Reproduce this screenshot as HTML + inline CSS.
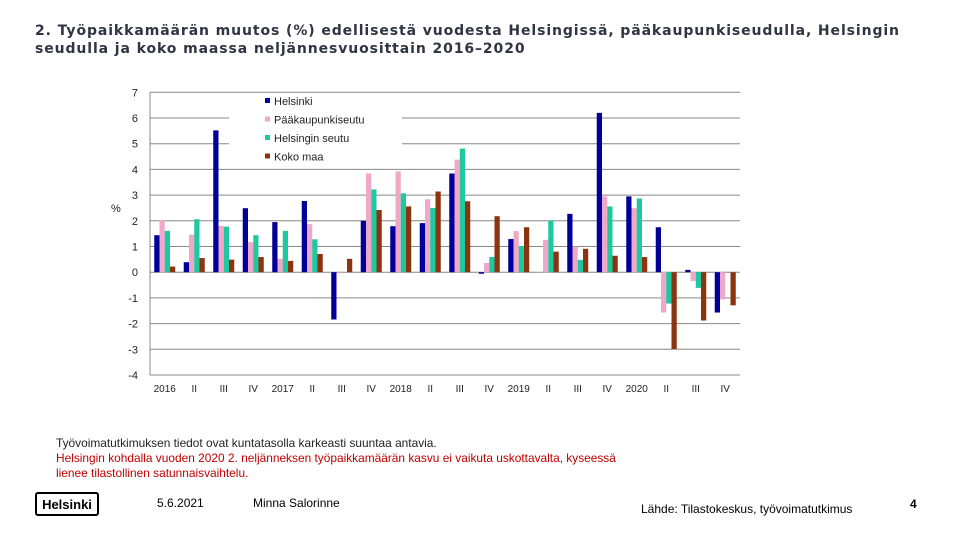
<!DOCTYPE html>
<html><head><meta charset="utf-8"><style>
body{margin:0;width:960px;height:540px;background:#fff;font-family:"Liberation Sans",sans-serif;position:relative;overflow:hidden}
.t{position:absolute;white-space:nowrap}
</style></head><body>
<div class="t" style="left:35px;top:22px;font-family:'DejaVu Sans',sans-serif;font-size:14px;line-height:18px;letter-spacing:0.9px;color:#2f3542;font-weight:bold">2. Työpaikkamäärän muutos (%) edellisestä vuodesta Helsingissä, pääkaupunkiseudulla, Helsingin<br>seudulla ja koko maassa neljännesvuosittain 2016–2020</div>
<svg id="c" width="960" height="540" style="position:absolute;left:0;top:0"></svg>
<div class="t" style="left:56px;top:436px;font-size:11.9px;line-height:15px;color:#222">Työvoimatutkimuksen tiedot ovat kuntatasolla karkeasti suuntaa antavia.<br><span style="color:#c00000">Helsingin kohdalla vuoden 2020 2. neljänneksen työpaikkamäärän kasvu ei vaikuta uskottavalta, kyseessä<br>lienee tilastollinen satunnaisvaihtelu.</span></div>
<div class="t" style="left:35px;top:492px;width:64px;height:24px;border:2px solid #000;border-radius:3px;font-weight:bold;font-size:13px;line-height:21px;text-align:center;box-sizing:border-box">Helsinki</div>
<div class="t" style="left:157px;top:496px;font-size:12px">5.6.2021</div>
<div class="t" style="left:253px;top:496px;font-size:12px">Minna Salorinne</div>
<div class="t" style="left:641px;top:502px;font-size:12px">Lähde: Tilastokeskus, työvoimatutkimus</div>
<div class="t" style="left:910px;top:497px;font-size:12px;font-weight:bold">4</div>
<script>
const categories=["2016","II","III","IV","2017","II","III","IV","2018","II","III","IV","2019","II","III","IV","2020","II","III","IV"];
const helsinki=[1.44,0.39,5.52,2.49,1.95,2.77,-1.84,2.0,1.79,1.91,3.84,-0.06,1.29,0,2.27,6.2,2.95,1.75,0.09,-1.57];
const paakaupunkiseutu=[2.02,1.46,1.8,1.17,0.52,1.87,-0.04,3.84,3.92,2.84,4.38,0.36,1.6,1.26,1.0,2.95,2.49,-1.57,-0.34,-1.06];
const helsinginSeutu=[1.61,2.06,1.77,1.44,1.61,1.28,0,3.22,3.07,2.5,4.81,0.59,1.02,2.01,0.48,2.56,2.87,-1.22,-0.61,0];
const kokoMaa=[0.22,0.55,0.49,0.59,0.44,0.71,0.52,2.42,2.56,3.14,2.76,2.18,1.75,0.8,0.91,0.64,0.59,-2.99,-1.88,-1.29];
const yTicks=[7,6,5,4,3,2,1,0,-1,-2,-3,-4];
const seriesNames=["Helsinki","Pääkaupunkiseutu","Helsingin seutu","Koko maa"];
const colors=["#000099","#f0a8c8","#20c8a0","#8b3510"];
const NS="http://www.w3.org/2000/svg",svg=document.getElementById('c');
const L=150,R=740,T=92.3,B=375;
const y=v=>T+(7-v)*(B-T)/11;
const gw=(R-L)/categories.length;
const x=i=>L+i*gw;
function el(t,a){const e=document.createElementNS(NS,t);for(const k in a)e.setAttribute(k,a[k]);svg.appendChild(e);return e;}
yTicks.forEach(v=>{
 const g=el('line',{x1:L,x2:R,y1:y(v),y2:y(v),stroke:'#888','stroke-width':1});
 
 
 const t=el('text',{x:138,y:y(v)+4,'text-anchor':'end','font-size':11,fill:'#222'});t.textContent=v;
 
 
});
const ax=el('line',{x1:L,x2:L,y1:T,y2:B,stroke:'#888'});


const yl=el('text',{x:111,y:212,'font-size':11,fill:'#222'});yl.textContent='%';


const series=[helsinki,paakaupunkiseutu,helsinginSeutu,kokoMaa];
categories.forEach((c,i)=>{
 series.forEach((s,k)=>{
  const v=s[i];if(!v)return;
  const r=el('rect',{x:x(i)+4.25+k*5.25,width:5.25,y:Math.min(y(v),y(0)),height:Math.abs(y(v)-y(0)),fill:colors[k]});
  
  
 });
 const t=el('text',{x:x(i)+gw/2,y:392,'text-anchor':'middle','font-size':10,fill:'#222'});t.textContent=c;
 
 
});
const lb=el('rect',{x:229,y:93,width:173,height:73,fill:'#fff'});


seriesNames.forEach((n,k)=>{
 const s=el('rect',{x:265,y:98+k*18.5,width:5,height:5,fill:colors[k]});
 
 
 const t=el('text',{x:274,y:105+k*18.5,'font-size':11,fill:'#222'});t.textContent=n;
 
 
});
</script>
</body></html>
